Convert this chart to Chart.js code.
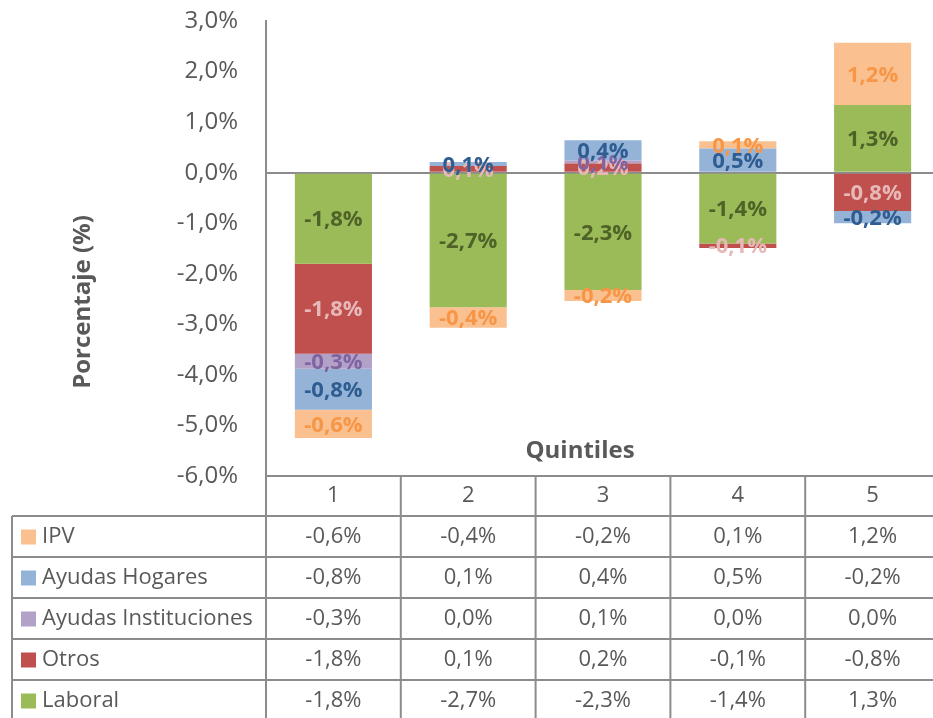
<!DOCTYPE html>
<html>
<head>
<meta charset="utf-8">
<title>Quintiles</title>
<script src="https://cdn.jsdelivr.net/npm/chart.js@4.4.1/dist/chart.umd.min.js"></script>
<style>
  body { margin: 0; background: #fff; }
  #wrap { width: 933px; height: 718px; overflow: hidden; }
</style>
</head>
<body>
<div id="wrap"><canvas id="chart" width="940" height="718"></canvas></div>
<script>
const quintiles = ['1', '2', '3', '4', '5'];

// valores estimados a partir del grafico (%)
const laboral = [-1.80, -2.66, -2.32, -1.40, 1.34];
const otros = [-1.78, 0.13, 0.18, -0.09, -0.76];
const ayudasInst = [-0.30, 0.0, 0.06, 0.0, 0.0];
const ayudasHogares = [-0.81, 0.08, 0.40, 0.48, -0.24];
const ipv = [-0.56, -0.41, -0.22, 0.14, 1.23];

const yTicks = [-6, -5, -4, -3, -2, -1, 0, 1, 2, 3];

const TXT = '#595959';
const LINE = '#8c8c8c';
const FONT = "'Open Sans', sans-serif";

function pct(v) {
  if (Math.abs(v) < 0.05) v = 0;
  return v.toFixed(1).replace('.', ',') + '%';
}

const series = [
  { label: 'Laboral', data: laboral, color: '#9bbb59', text: '#4f6228' },
  { label: 'Otros', data: otros, color: '#c0504d', text: '#e6b9b8' },
  { label: 'Ayudas Instituciones', data: ayudasInst, color: '#b3a2c7', text: '#8064a2' },
  { label: 'Ayudas Hogares', data: ayudasHogares, color: '#95b3d7', text: '#2f5d91' },
  { label: 'IPV', data: ipv, color: '#fac090', text: '#f79646' }
];

// etiquetas de datos dentro de cada segmento
const barLabels = {
  id: 'barLabels',
  afterDatasetsDraw(chart) {
    const ctx = chart.ctx;
    ctx.save();
    ctx.font = 'bold 22px ' + FONT;
    ctx.textAlign = 'center';
    ctx.textBaseline = 'middle';
    chart.data.datasets.forEach((ds, i) => {
      const meta = chart.getDatasetMeta(i);
      meta.data.forEach((bar, j) => {
        const v = ds.data[j];
        if (Math.abs(v) < 0.05) return;
        const p = bar.getProps(['x', 'y', 'base'], true);
        ctx.fillStyle = series[i].text;
        ctx.fillText(pct(v), p.x, (p.y + p.base) / 2 + 1.5);
      });
    });
    ctx.restore();
  }
};

// titulos y tabla de datos bajo el grafico
const dataTable = {
  id: 'dataTable',
  afterDraw(chart) {
    const ctx = chart.ctx;
    const area = chart.chartArea;
    const xs = chart.scales.x;
    const cw = xs.getPixelForValue(1) - xs.getPixelForValue(0);
    const right = chart.width;
    const top = area.bottom;
    const rowH = 41;
    const headH = 40;
    const legLeft = 12;

    ctx.save();
    ctx.fillStyle = TXT;
    ctx.font = 'bold 24px ' + FONT;
    ctx.textAlign = 'center';
    ctx.textBaseline = 'middle';
    ctx.fillText('Quintiles', 580, 451);

    ctx.save();
    ctx.translate(83, 302);
    ctx.rotate(-Math.PI / 2);
    ctx.fillText('Porcentaje (%)', 0, 0);
    ctx.restore();

    ctx.strokeStyle = LINE;
    ctx.lineWidth = 2;
    ctx.beginPath();
    ctx.moveTo(area.left, top);
    ctx.lineTo(right, top);
    for (let r = 0; r < 5; r++) {
      const y = top + headH + r * rowH;
      ctx.moveTo(legLeft, y);
      ctx.lineTo(right, y);
    }
    ctx.moveTo(legLeft, top + headH);
    ctx.lineTo(legLeft, chart.height);
    ctx.moveTo(area.left, top);
    ctx.lineTo(area.left, chart.height);
    for (let j = 0; j < quintiles.length - 1; j++) {
      const x = xs.getPixelForValue(j) + cw / 2;
      ctx.moveTo(x, top);
      ctx.lineTo(x, chart.height);
    }
    ctx.stroke();

    ctx.font = '22px ' + FONT;
    ctx.fillStyle = TXT;
    quintiles.forEach((q, j) => {
      ctx.fillText(q, xs.getPixelForValue(j), top + headH / 2);
    });

    const rows = series.slice().reverse();
    rows.forEach((s, r) => {
      const yc = top + headH + r * rowH + rowH / 2;
      ctx.fillStyle = s.color;
      ctx.fillRect(21, yc - 7, 15, 15);
      ctx.fillStyle = TXT;
      ctx.textAlign = 'left';
      ctx.fillText(s.label, 42, yc);
      ctx.textAlign = 'center';
      s.data.forEach((v, j) => {
        ctx.fillText(pct(v), xs.getPixelForValue(j), yc);
      });
    });
    ctx.restore();
  }
};

new Chart(document.getElementById('chart'), {
  type: 'bar',
  data: {
    labels: quintiles,
    datasets: series.map(s => ({
      label: s.label,
      data: s.data,
      backgroundColor: s.color,
      borderWidth: 0,
      categoryPercentage: 1,
      barPercentage: 0.572
    }))
  },
  options: {
    responsive: false,
    animation: false,
    devicePixelRatio: 1,
    layout: { padding: { left: 0, right: 0, top: 21, bottom: 242 } },
    plugins: {
      legend: { display: false },
      tooltip: { enabled: false }
    },
    font: { family: FONT },
    scales: {
      x: {
        stacked: true,
        display: false
      },
      y: {
        stacked: true,
        min: yTicks[0],
        max: yTicks[yTicks.length - 1],
        afterBuildTicks: (scale) => { scale.ticks = yTicks.map(v => ({ value: v })); },
        afterFit: (scale) => { scale.width = 266; },
        ticks: {
          font: { family: FONT, size: 24 },
          color: TXT,
          padding: 0,
          callback: (v) => pct(v)
        },
        grid: {
          drawTicks: true,
          tickLength: 28,
          tickColor: 'rgba(0,0,0,0)',
          color: (c) => c.tick && c.tick.value === 0 ? LINE : 'rgba(0,0,0,0)',
          lineWidth: 2
        },
        border: { display: true, color: LINE, width: 2 }
      }
    }
  },
  plugins: [barLabels, dataTable]
});
</script>
</body>
</html>
